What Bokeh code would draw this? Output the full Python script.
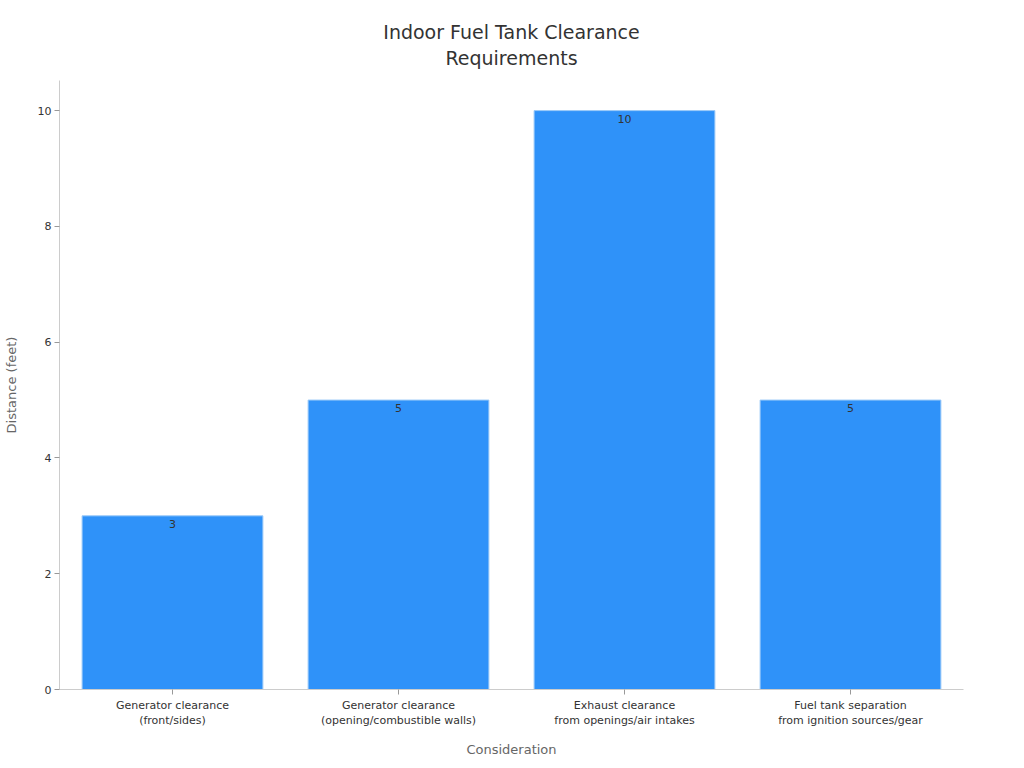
from bokeh.plotting import figure
from bokeh.models import ColumnDataSource, Range1d, FactorRange, Title
from bokeh.embed import file_html
from bokeh.resources import INLINE
from bokeh.core.properties import value

categories = [
    "Generator clearance\n(front/sides)",
    "Generator clearance\n(opening/combustible walls)",
    "Exhaust clearance\nfrom openings/air intakes",
    "Fuel tank separation\nfrom ignition sources/gear",
]
distances = [3, 5, 10, 5]
labels = [str(v) for v in distances]
title_lines = ["Indoor Fuel Tank Clearance", "Requirements"]

src = ColumnDataSource(dict(cat=categories, val=distances, lab=labels))

FONT = "DejaVu Sans"

p = figure(
    x_range=FactorRange(*categories, range_padding=0.0),
    y_range=Range1d(0, 10.52),
    width=1008, height=760,
    output_backend="svg", toolbar_location=None,
    min_border_left=54, min_border_right=45, min_border_top=80, min_border_bottom=67,
    title=None,
)
p.x_range.factor_padding = 0.0

# invisible spacer between the frame and the title block
p.add_layout(Title(text=" ", text_font=FONT, text_font_size="9px", standoff=0), "above")
standoffs = [0, 4]
for t, so in zip(reversed(title_lines), standoffs):
    p.add_layout(Title(text=t, align="center", text_font=FONT, text_font_size="19px",
                       text_font_style="normal", text_color="#333333",
                       standoff=so, offset=0), "above")

p.vbar(x="cat", top="val", width=0.8, source=src, fill_color="#2f92f9",
       line_color="#9ccaf8", line_width=1)

p.text(x="cat", y="val", text="lab", source=src, text_align="center",
       text_baseline="top", y_offset=4, text_font=value(FONT),
       text_font_size="11px", text_color="#333333")

p.grid.visible = False
p.outline_line_color = None
p.background_fill_color = "white"

for ax in (p.xaxis, p.yaxis):
    ax.axis_line_color = "#cccccc"
    ax.major_tick_line_color = "#999999"
    ax.minor_tick_line_color = None
    ax.major_tick_out = 5
    ax.major_tick_in = 0
    ax.major_label_text_font = FONT
    ax.major_label_text_font_size = "11px"
    ax.major_label_text_color = "#333333"
    ax.axis_label_text_font = FONT
    ax.axis_label_text_font_size = "13px"
    ax.axis_label_text_font_style = "normal"
    ax.axis_label_text_color = "#666666"

p.yaxis.ticker = [0, 2, 4, 6, 8, 10]
p.yaxis.axis_label = "Distance (feet)"
p.yaxis.major_label_standoff = 3
p.yaxis.axis_label_standoff = 16
p.xaxis.axis_label = "Consideration"
p.xaxis.major_label_standoff = 4
p.xaxis.axis_label_standoff = 12

open("out.html", "w").write(file_html(p, INLINE))
